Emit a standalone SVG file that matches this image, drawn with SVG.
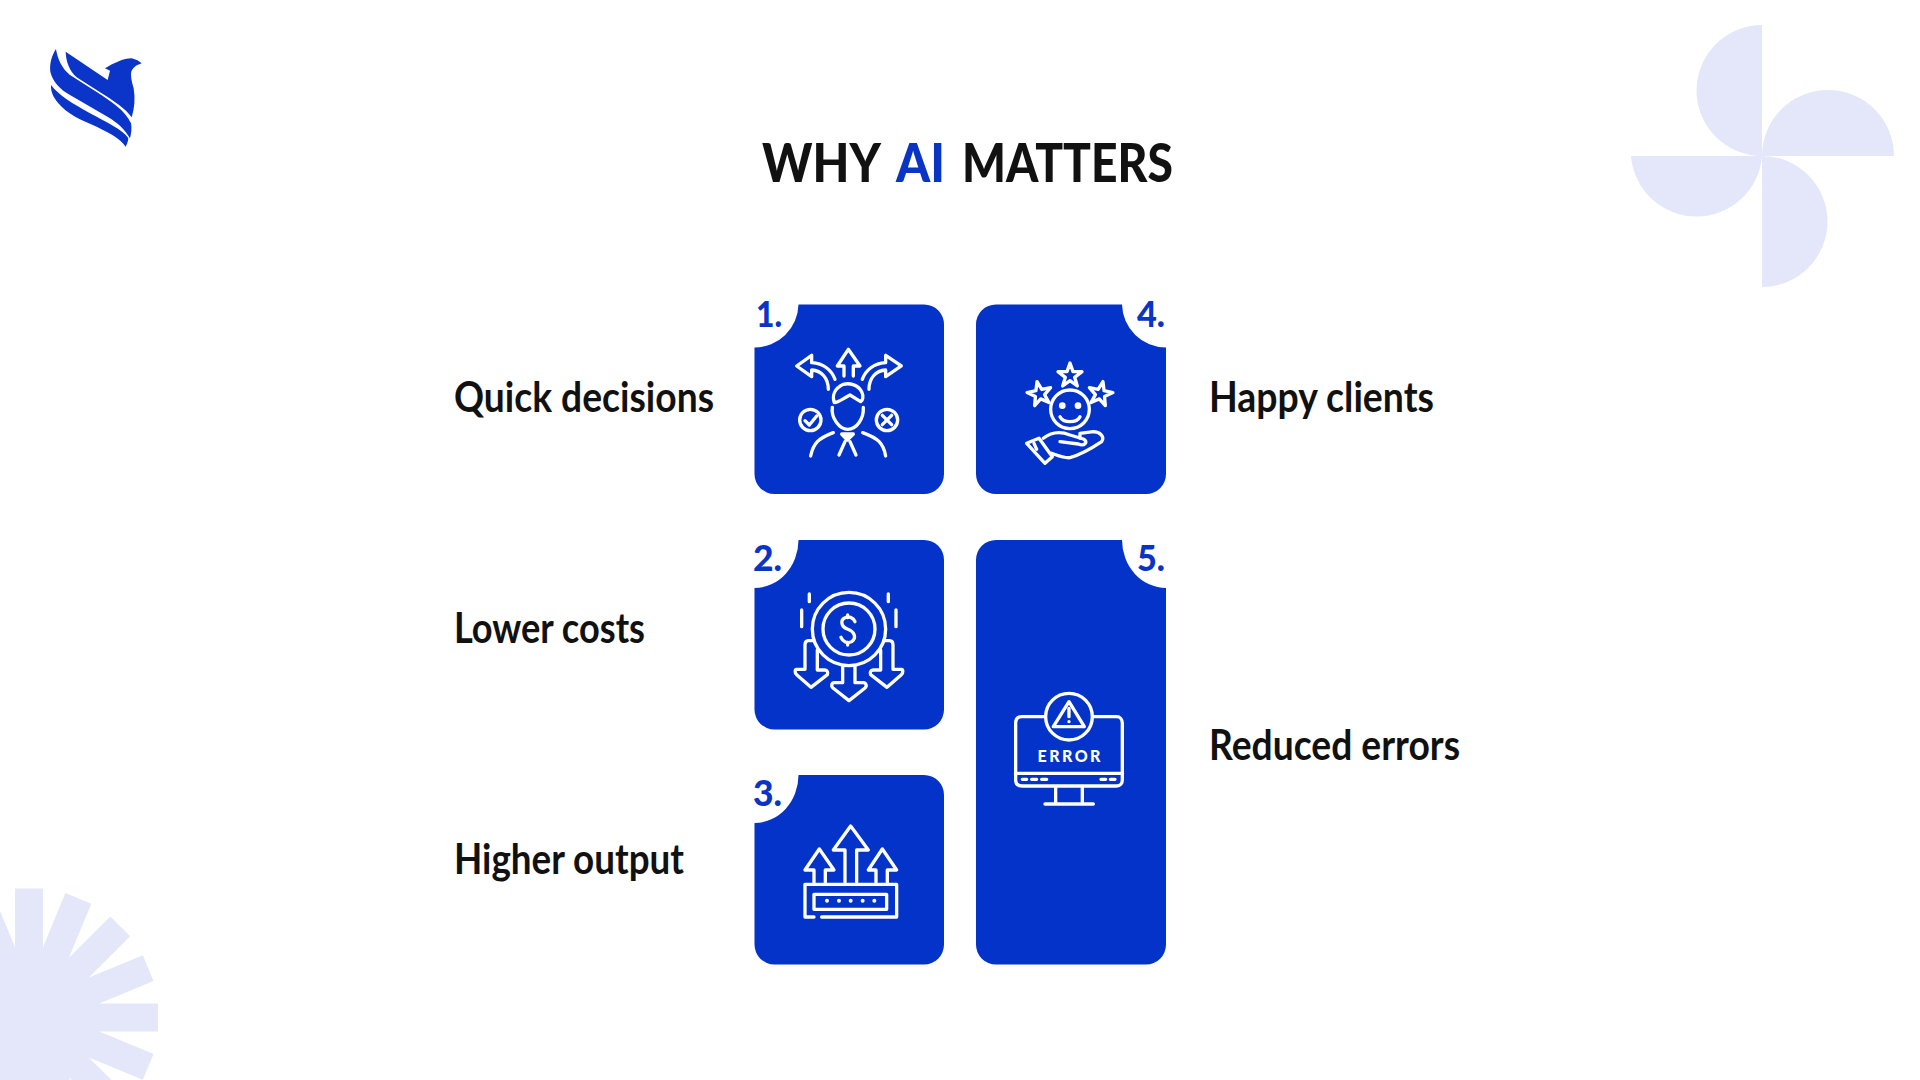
<svg xmlns="http://www.w3.org/2000/svg" width="1920" height="1080" viewBox="0 0 1920 1080">
<style>
.card{fill:#0333c9}
.num{font-family:"Lato","Liberation Sans",sans-serif;font-weight:900;font-size:36px;fill:#0a35c4}
.lab{font-family:"Lato","Liberation Sans",sans-serif;font-weight:700;font-size:42px;fill:#111}
.title{font-family:"Lato","Liberation Sans",sans-serif;font-weight:900;font-size:54px;fill:#111}
.ic{fill:none;stroke:#fff;stroke-width:10;stroke-linecap:round;stroke-linejoin:round}
.pale{fill:#e3e7f9}
</style>
<defs>
<rect id="b" x="-14" y="-129" width="28" height="129"/>
<path id="star" d="M0 -38L9 -12L36 -12L14 5L22 31L0 15L-22 31L-14 5L-36 -12L-9 -12Z"/>
</defs>
<rect width="1920" height="1080" fill="#fff"/>
<g id="logo" fill="#0a35c8" transform="translate(30 30) scale(.3333)">
<path d="M107 65L233 150L240 122L225 115C250 100 280 85 305 85C318 88 328 93 335 100C322 104 312 110 306 120C300 130 304 150 311 175C316 205 314 235 305 262C285 235 255 215 215 190L140 142C118 122 108 95 107 65Z"/>
<path d="M78 57C82 85 95 115 120 135L200 186C240 212 285 240 303 280C306 295 304 312 300 325C285 300 265 280 235 262L120 195C90 178 68 155 61 125C58 100 66 75 78 57Z"/>
<path d="M63 165C85 195 130 222 180 250C225 275 280 300 295 325C294 335 291 343 287 350C270 325 240 310 200 290C150 270 110 250 85 220C70 202 62 185 63 165Z"/>
</g>
<path id="bg-pinwheel" class="pale" d="M1762 25V156A65.500 65.500 0 0 1 1762 25ZM1762 156A65.700 65.700 0 0 1 1894 156ZM1762 156A65.500 65.500 0 0 1 1762 287ZM1762 156A65.700 65.700 0 0 1 1631 156Z"/>
<g id="bg-burst" class="pale" transform="translate(29 1017.5)">
<use href="#b"/><use href="#b" transform="rotate(22.5)"/><use href="#b" transform="rotate(45)"/><use href="#b" transform="rotate(67.5)"/><use href="#b" transform="rotate(90)"/><use href="#b" transform="rotate(112.5)"/><use href="#b" transform="rotate(135)"/><use href="#b" transform="rotate(157.5)"/><use href="#b" transform="rotate(180)"/><use href="#b" transform="rotate(-22.5)"/><use href="#b" transform="rotate(-45)"/><use href="#b" transform="rotate(-67.5)"/><use href="#b" transform="rotate(-90)"/><use href="#b" transform="rotate(-112.5)"/><use href="#b" transform="rotate(-135)"/><use href="#b" transform="rotate(-157.5)"/>
<circle r="72"/>
</g>
<text id="title" class="title" y="182"><tspan x="762" textLength="117" lengthAdjust="spacingAndGlyphs">WHY</tspan> <tspan x="896" textLength="49" lengthAdjust="spacingAndGlyphs" fill="#0a35c4">AI</tspan> <tspan x="962" textLength="211" lengthAdjust="spacingAndGlyphs">MATTERS</tspan></text>
<g id="card1">
<path class="card" d="M798.500 304.500H924A20 20 0 0 1 944 324.500V474A20 20 0 0 1 924 494H774.500A20 20 0 0 1 754.500 474V347.500A44 44 0 0 0 798.500 304.500Z"/>
<text class="num" x="756" y="327" textLength="26" lengthAdjust="spacingAndGlyphs">1.</text>
<g class="ic" transform="translate(740 290) scale(.3333)">
<path d="M312 258V228H292L325 178L360 228H340V258"/>
<path d="M265 298C265 265 245 242 215 240V260L170 228L215 196V218C250 220 275 240 285 268"/>
<path d="M387 298C387 265 407 242 437 240V260L484 228L437 196V218C402 220 377 240 367 268"/>
<path d="M283 338C275 315 285 295 310 283C330 278 355 285 365 305C372 320 368 332 362 335L330 315C310 325 295 338 283 338Z"/>
<path d="M277 352C272 385 300 418 323 418C350 418 372 385 370 352"/>
<circle cx="211" cy="390" r="32"/><path d="M195 392L208 405L230 378"/>
<circle cx="441" cy="390" r="32"/><path d="M427 376L455 404M455 376L427 404"/>
<path d="M212 498C220 460 235 445 280 428M437 498C430 460 415 445 368 428"/>
<path d="M305 432H340L322 450Z" fill="#fff"/>
<path d="M315 455L297 495M330 455L348 495"/>
</g>
</g>
<g id="card2">
<path class="card" d="M798.500 540H924A20 20 0 0 1 944 560V709.500A20 20 0 0 1 924 729.500H774.500A20 20 0 0 1 754.500 709.500V588A44 48 0 0 0 798.500 540Z"/>
<text class="num" x="753" y="571" textLength="29" lengthAdjust="spacingAndGlyphs">2.</text>
<g class="ic" transform="translate(740 530) scale(.3333)">
<circle cx="327" cy="297" r="110"/><circle cx="327" cy="297" r="78"/>
<path d="M345 275C340 262 325 258 315 263C300 270 303 290 322 297C345 305 350 325 335 335C322 342 308 335 303 322M323 255V263M323 337V345"/>
<path d="M208 192V215M445 192V215M185 240V290M468 240V290"/>
<path d="M222 332H205C197 332 195 338 195 345V418H170C165 418 163 428 170 434L213 472L262 434C265 428 262 420 255 420H232V360"/>
<path d="M432 332H449C457 332 459 338 459 345V418H484C489 418 491 428 484 434L441 472L392 434C389 428 392 420 399 420H422V360"/>
<path d="M308 410V458H283C275 458 272 468 279 474L327 512L375 474C382 468 378 458 370 458H345V410"/>
</g>
</g>
<g id="card3">
<path class="card" d="M798.500 775H924A20 20 0 0 1 944 795V944.500A20 20 0 0 1 924 964.500H774.500A20 20 0 0 1 754.500 944.500V823A44 48 0 0 0 798.500 775Z"/>
<text class="num" x="753" y="806" textLength="29" lengthAdjust="spacingAndGlyphs">3.</text>
<g class="ic" transform="translate(740 765) scale(.3333)">
<path d="M222 352V315H195L238 252L282 315H256V352"/>
<path d="M315 352V255H280L332 183L385 255H350V352"/>
<path d="M408 352V315H385L427 252L470 315H442V352"/>
<path d="M222 456H195V358H470V456H245"/>
<rect x="222" y="388" width="218" height="45"/>
<path d="M261 407H261M297 407H297M332 407H332M368 407H368M403 407H403" stroke-width="12"/>
</g>
</g>
<g id="card4">
<path class="card" d="M996 304.500H1122A44 44 0 0 0 1166 347.500V474A20 20 0 0 1 1146 494H996A20 20 0 0 1 976 474V324.500A20 20 0 0 1 996 304.500Z"/>
<text class="num" x="1137" y="327" textLength="28" lengthAdjust="spacingAndGlyphs">4.</text>
<g class="ic" transform="translate(965 290) scale(.3333)">
<use href="#star" transform="translate(315 257)"/>
<use href="#star" transform="translate(224 312) rotate(-12)"/>
<use href="#star" transform="translate(406 312) rotate(12)"/>
<circle cx="315" cy="358" r="58"/>
<circle cx="292" cy="347" r="5" fill="#fff"/><circle cx="339" cy="347" r="5" fill="#fff"/>
<path d="M285 380C295 400 335 400 345 380"/>
<path d="M185 460L222 445L262 500L240 520Z"/><path d="M207 460L215 478"/>
<path d="M235 445C260 425 290 425 315 435L355 447C372 455 358 470 340 462L285 455M345 445L345 430L385 425C405 425 420 440 410 455C380 475 345 495 315 503C295 505 275 495 260 490"/>
</g>
</g>
<g id="card5">
<path class="card" d="M996 540H1122A44 48 0 0 0 1166 588V944.500A20 20 0 0 1 1146 964.500H996A20 20 0 0 1 976 944.500V560A20 20 0 0 1 996 540Z"/>
<text class="num" x="1137" y="571" textLength="28" lengthAdjust="spacingAndGlyphs">5.</text>
<g class="ic" transform="translate(965 660) scale(.3333)">
<circle cx="312" cy="170" r="70"/>
<path d="M312 125L358 200H265Z"/>
<path d="M312 145V170M312 185V185"/>
<path d="M240 170H170C158 170 152 178 152 190V360C152 372 160 378 172 378H455C466 378 472 370 472 360V190C472 178 465 170 455 170H385"/>
<path d="M152 340H472"/>
<path d="M172 358H185M200 358H215M230 358H245M408 358H422M436 358H450"/>
<path d="M272 382V432M352 382V432M240 432H385"/>
</g>
<text x="1037.500" y="762" font-family="Lato,'Liberation Sans',sans-serif" font-weight="900" font-size="16" textLength="63" fill="#fff">ERROR</text>
</g>
<g id="labels">
<text class="lab" x="454" y="412" textLength="260" lengthAdjust="spacingAndGlyphs">Quick decisions</text>
<text class="lab" x="454" y="643" textLength="191" lengthAdjust="spacingAndGlyphs">Lower costs</text>
<text class="lab" x="454" y="874" textLength="230" lengthAdjust="spacingAndGlyphs">Higher output</text>
<text class="lab" x="1209" y="412" textLength="225" lengthAdjust="spacingAndGlyphs">Happy clients</text>
<text class="lab" x="1209" y="760" textLength="251" lengthAdjust="spacingAndGlyphs">Reduced errors</text>
</g>
</svg>
